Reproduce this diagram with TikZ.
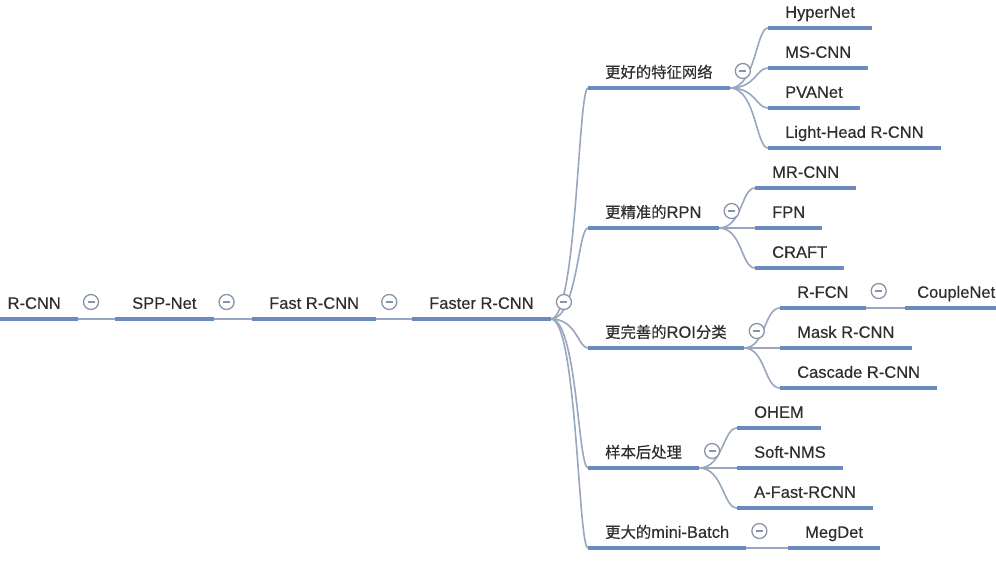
\documentclass[tikz,border=0pt]{standalone}
\usepackage{fontspec}
\setmainfont{Liberation Sans}[FakeBold=0.35]
\newfontfamily\cjk{Noto Sans CJK SC}[Scale=0.93,FakeBold=0.35]
\definecolor{lineblue}{HTML}{6A8BC0}
\definecolor{linkgray}{HTML}{98A7BF}
\definecolor{foldgray}{HTML}{8A94A8}
\definecolor{textgray}{HTML}{2E2E2E}
\begin{document}
\begin{tikzpicture}[x=1pt,y=1pt,
    topic/.style={anchor=south west, inner xsep=17pt, inner ysep=0pt,
      text height=13pt, text depth=10pt,
      font=\fontsize{16.5}{19}\selectfont, text=textgray},
    uline/.style={line width=3.6pt, lineblue},
    link/.style={line width=1.6pt, linkgray},
    fold/.style={circle, draw=foldgray, line width=1.3pt, minimum size=15pt,
      inner sep=0pt, fill=white,
      path picture={\draw[foldgray, line width=1.3pt]
        ([xshift=-3.5pt]path picture bounding box.center) --
        ([xshift=3.5pt]path picture bounding box.center);}}]
    \useasboundingbox[fill=white] (0,0) rectangle (996,560);
    % main chain
    \node[topic, anchor=south east] (rcnn) at (78,241) {R-CNN};
    \node[topic] (spp) at (115,241) {SPP-Net};
    \node[topic] (fast) at (252,241) {Fast R-CNN};
    \node[topic] (faster) at (412,241) {Faster R-CNN};
    % branches of Faster R-CNN
    \node[topic] (feat) at (588,472) {{\cjk 更好的特征网络}};
    \node[topic] (rpn) at (588,332) {{\cjk 更精准的}RPN};
    \node[topic] (roi) at (588,212) {{\cjk 更完善的}ROI{\cjk 分类}};
    \node[topic] (samp) at (588,92) {{\cjk 样本后处理}};
    \node[topic] (batch) at (588,12) {{\cjk 更大的}mini-Batch};
    % leaves
    \node[topic] (hyper) at (768,532) {HyperNet};
    \node[topic] (mscnn) at (768,492) {MS-CNN};
    \node[topic] (pva) at (768,452) {PVANet};
    \node[topic] (light) at (768,412) {Light-Head R-CNN};
    \node[topic] (mrcnn) at (755,372) {MR-CNN};
    \node[topic] (fpn) at (755,332) {FPN};
    \node[topic] (craft) at (755,292) {CRAFT};
    \node[topic] (rfcn) at (780,252) {R-FCN};
    \node[topic, inner xsep=12pt] (couple) at (905,252) {CoupleNet};
    \node[topic] (mask) at (780,212) {Mask R-CNN};
    \node[topic] (cascade) at (780,172) {Cascade R-CNN};
    \node[topic] (ohem) at (737,132) {OHEM};
    \node[topic] (softnms) at (737,92) {Soft-NMS};
    \node[topic] (afast) at (737,52) {A-Fast-RCNN};
    \node[topic] (megdet) at (788,12) {MegDet};
    % connectors
    \draw[link] (rcnn.south east) -- (spp.south west);
    \draw[link] (spp.south east) -- (fast.south west);
    \draw[link] (fast.south east) -- (faster.south west);
    \foreach \c in {feat,rpn,roi,samp,batch}
      \draw[link] (faster.south east) .. controls +(26,0) and +(-10,0) .. (\c.south west);
    \foreach \c in {hyper,mscnn,pva,light}
      \draw[link] (feat.south east) .. controls +(26,0) and +(-12,0) .. (\c.south west);
    \foreach \c in {mrcnn,fpn,craft}
      \draw[link] (rpn.south east) .. controls +(24,0) and +(-14,0) .. (\c.south west);
    \foreach \c in {rfcn,mask,cascade}
      \draw[link] (roi.south east) .. controls +(22,0) and +(-16,0) .. (\c.south west);
    \foreach \c in {ohem,softnms,afast}
      \draw[link] (samp.south east) .. controls +(24,0) and +(-14,0) .. (\c.south west);
    \draw[link] (rfcn.south east) -- (couple.south west);
    \draw[link] (batch.south east) -- (megdet.south west);
    % underlines
    \foreach \n in {rcnn,spp,fast,faster,feat,rpn,roi,samp,batch,hyper,mscnn,pva,
        light,mrcnn,fpn,craft,rfcn,couple,mask,cascade,ohem,softnms,afast,megdet}
      \draw[uline] (\n.south west) -- (\n.south east);
    % fold markers
    \foreach \n in {rcnn,spp,fast,faster,feat,rpn,roi,samp,batch,rfcn}
      \node[fold] (\n-fold) at ([shift={(13,17)}]\n.south east) {};
\end{tikzpicture}
\end{document}
